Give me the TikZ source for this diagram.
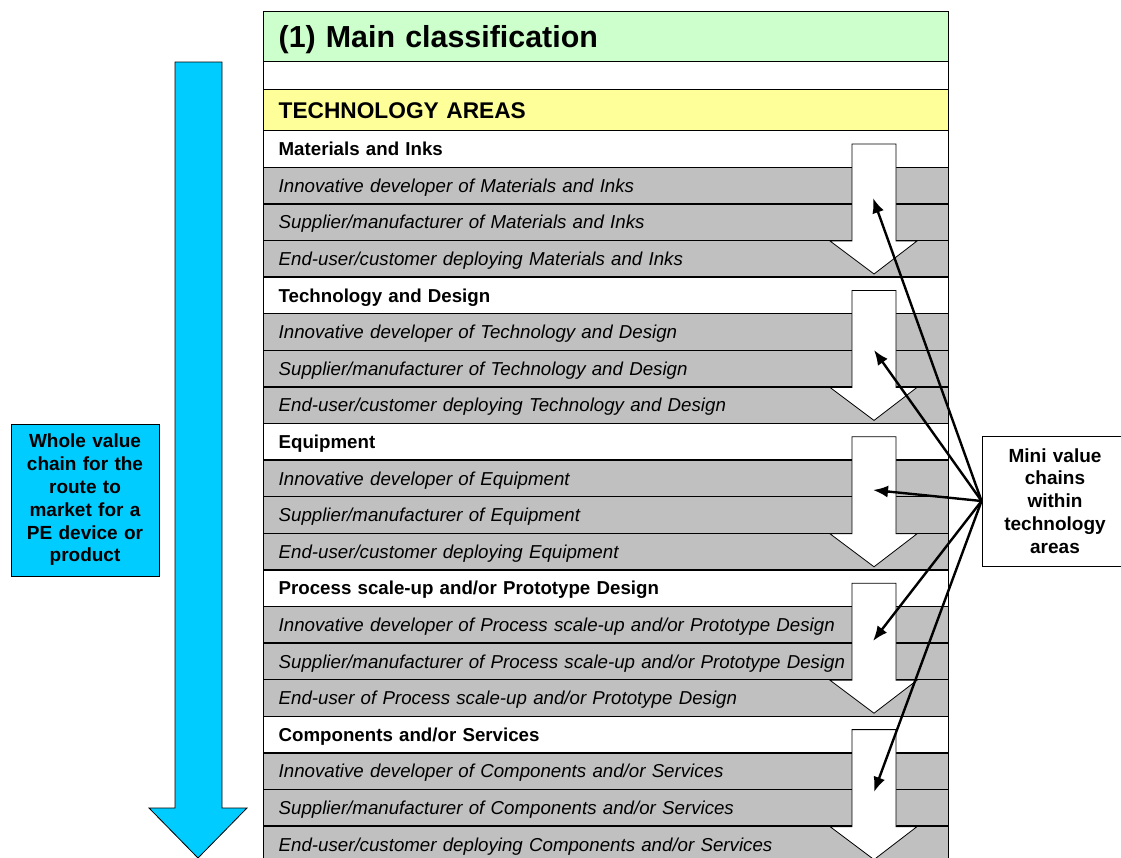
\documentclass[tikz,border=0pt]{standalone}
\usepackage{fontspec}
\setmainfont{Liberation Sans}
\usetikzlibrary{arrows.meta}
\definecolor{hdrgreen}{HTML}{CCFFCC}
\definecolor{hdryellow}{HTML}{FFFF99}
\definecolor{rowgray}{HTML}{C0C0C0}
\definecolor{chainblue}{HTML}{00CCFF}
\newcommand\techsection[3]{%
  \pgfmathsetmacro\secT{130+146.4*#1}%
  \node[hdrrow] (s#1) at (263,\secT) {#2};
  \node[subrow] (s#1a) at (263,\secT+36.6) {Innovative developer of #2};
  \node[subrow] (s#1b) at (263,\secT+73.2) {Supplier/manufacturer of #2};
  \node[subrow] (s#1c) at (263,\secT+109.8) {#3};
  \draw[whitearrow] (852,\secT+14) -- (896,\secT+14) -- (896,\secT+111) -- (917,\secT+111)
     -- (874,\secT+144) -- (830,\secT+111) -- (852,\secT+111) -- cycle;
}
\begin{document}
\begin{tikzpicture}[x=1pt,y=-1pt,
  tablerow/.style={draw=black, line width=1.3pt, anchor=north west,
    minimum width=685pt, minimum height=36.6pt, inner xsep=15pt, inner ysep=0pt,
    text width=655pt, align=left, text height=13.4pt, text depth=0pt,
    font=\fontsize{18.7}{22.4}\selectfont},
  hdrrow/.style={tablerow, fill=white, font=\fontsize{18.7}{22.4}\selectfont\bfseries},
  subrow/.style={tablerow, fill=rowgray, font=\fontsize{18.7}{22.4}\selectfont\itshape},
  whitearrow/.style={draw=black, fill=white, line width=0.8pt, line join=miter},
  pointer/.style={draw=black, line width=2.4pt, -{Latex[length=15pt,width=12pt]}},
  labelbox/.style={draw=black, line width=0.9pt, inner sep=0pt, align=center,
    font=\fontsize{19}{22.8}\selectfont\bfseries}
]
\useasboundingbox (0,0) rectangle (1121,857);
\clip (0,0) rectangle (1121,857);

% header rows
\node[tablerow, fill=hdrgreen, minimum height=50pt, text height=21.9pt,
      font=\fontsize{30.4}{36}\selectfont\bfseries] (title) at (263,11) {(1) Main classification};
\node[tablerow, fill=white, minimum height=28pt] (gap) at (263,61) {};
\node[tablerow, fill=hdryellow, minimum height=41pt, text height=16.3pt,
      font=\fontsize{22.7}{27}\selectfont\bfseries] (areas) at (263,89) {TECHNOLOGY AREAS};

% sections
\techsection{0}{Materials and Inks}{End-user/customer deploying Materials and Inks}
\techsection{1}{Technology and Design}{End-user/customer deploying Technology and Design}
\techsection{2}{Equipment}{End-user/customer deploying Equipment}
\techsection{3}{Process scale-up and/or Prototype Design}{End-user of Process scale-up and/or Prototype Design}
\techsection{4}{Components and/or Services}{End-user/customer deploying Components and/or Services}

% big blue arrow
\draw[fill=chainblue, line width=0.8pt, line join=miter]
  (175,62) -- (222,62) -- (222,808) -- (247,808) -- (198,858) -- (149,808) -- (175,808) -- cycle;

% left label
\node[labelbox, fill=chainblue, minimum width=148pt, minimum height=152pt, text width=140pt]
  (whole) at (85,500) {\raisebox{-3pt}{\parbox{140pt}{\centering Whole value\\chain for the\\route to\\market for a\\PE device or\\product}}};

% right label
\node[labelbox, fill=white, minimum width=146pt, minimum height=130pt, text width=140pt]
  (mini) at (1055,501) {Mini value\\chains\\within\\technology\\areas};

% pointer targets
\coordinate (tip0) at (873,198);
\coordinate (tip1) at (874,350);
\coordinate (tip2) at (873,490);
\coordinate (tip3) at (873,641);
\coordinate (tip4) at (874,792);
\foreach \i in {0,...,4} {\draw[pointer] (mini.west) -- (tip\i);}
\end{tikzpicture}
\end{document}
